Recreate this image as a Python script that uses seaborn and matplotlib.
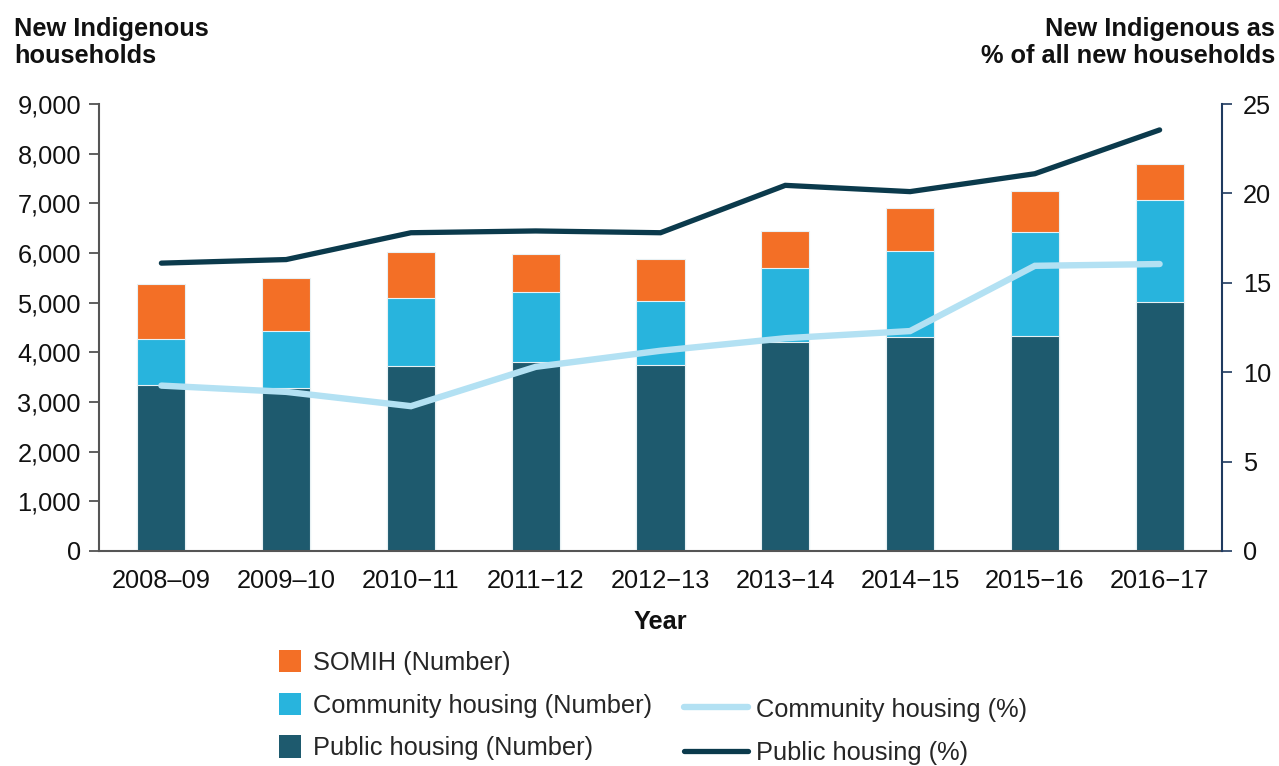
import numpy as np
import pandas as pd
import matplotlib
matplotlib.use("Agg")
import matplotlib.pyplot as plt
from matplotlib.lines import Line2D
from matplotlib.patches import Patch
import seaborn as sns

# ---- data ----
years = ["2008–09", "2009–10", "2010−11", "2011−12", "2012−13",
         "2013−14", "2014−15", "2015−16", "2016−17"]
public_num = [3340, 3280, 3730, 3810, 3750, 4200, 4300, 4330, 5020]
community_num = [920, 1140, 1360, 1410, 1280, 1490, 1740, 2090, 2040]
somih_num = [1110, 1070, 930, 750, 850, 760, 860, 830, 730]
community_pct = [9.25, 8.9, 8.1, 10.3, 11.2, 11.9, 12.3, 15.95, 16.05]
public_pct = [16.1, 16.3, 17.8, 17.9, 17.8, 20.45, 20.1, 21.1, 23.55]

left_ticks = [0, 1000, 2000, 3000, 4000, 5000, 6000, 7000, 8000, 9000]
right_ticks = [0, 5, 10, 15, 20, 25]

C_SOMIH = "#F36F26"
C_COMM = "#28B4DD"
C_PUB = "#1E5A6E"
C_COMM_L = "#B3E1F3"
C_PUB_L = "#0B3A4C"

FS = 18.3

sns.set_theme(style="white")
plt.rcParams["font.family"] = ["Liberation Sans", "DejaVu Sans"]

df = pd.DataFrame({
    "year": years,
    "public": public_num,
    "community": community_num,
    "somih": somih_num,
})
df["pc"] = df["public"] + df["community"]
df["total"] = df["pc"] + df["somih"]

fig = plt.figure(figsize=(12.79, 7.66), dpi=100)
ax = fig.add_axes([99 / 1279, 1 - 551 / 766, (1222 - 99) / 1279, (551 - 104) / 766])

bw = 0.385
for col, c in [("total", C_SOMIH), ("pc", C_COMM), ("public", C_PUB)]:
    sns.barplot(data=df, x="year", y=col, color=c, width=bw, ax=ax,
                saturation=1, edgecolor="#e8f1f4", linewidth=0.8, order=years)

ax.set_ylim(0, 9000)
ax.set_xlim(-0.5, 8.5)
ax.set_yticks(left_ticks)
ax.set_yticklabels([f"{v:,}" for v in left_ticks])
ax.set_xlabel("Year", fontsize=FS, fontweight="bold", labelpad=12, color="#111111")
ax.set_ylabel("")
ax.tick_params(axis="y", which="both", left=True, length=7, width=1.2,
               color="#444444", labelsize=FS, pad=6, labelcolor="#111111")
ax.tick_params(axis="x", length=0, labelsize=FS, pad=13, labelcolor="#111111")
for s in ["top", "right"]:
    ax.spines[s].set_visible(False)
ax.spines["left"].set_color("#555555")
ax.spines["left"].set_linewidth(1.5)
ax.spines["bottom"].set_color("#555555")
ax.spines["bottom"].set_linewidth(1.5)

ax2 = ax.twinx()
pos = np.arange(len(years))
sns.lineplot(x=pos, y=community_pct, ax=ax2, color=C_COMM_L, linewidth=4.6,
             solid_capstyle="round", solid_joinstyle="miter")
sns.lineplot(x=pos, y=public_pct, ax=ax2, color=C_PUB_L, linewidth=3.8,
             solid_capstyle="round", solid_joinstyle="miter")
ax2.set_ylim(0, 25)
ax2.set_xlim(-0.5, 8.5)
ax2.set_yticks(right_ticks)
ax2.set_yticklabels([str(v) for v in right_ticks])
ax2.tick_params(axis="y", which="both", right=True, length=7, width=1.2,
                color="#1F3A5F", labelsize=FS, pad=8, labelcolor="#111111")
for s in ["top", "left", "bottom"]:
    ax2.spines[s].set_visible(False)
ax2.spines["right"].set_color("#1F3A5F")
ax2.spines["right"].set_linewidth(1.5)
ax2.grid(False)
ax.grid(False)

fig.text(14 / 1279, 1 - 17 / 766, "New Indigenous\nhouseholds", ha="left", va="top",
         fontsize=FS, fontweight="bold", color="#111111", linespacing=1.17)
fig.text(1275 / 1279, 1 - 17 / 766, "New Indigenous as\n% of all new households",
         ha="right", va="top", fontsize=FS, fontweight="bold", color="#111111",
         linespacing=1.17, multialignment="right")

h_left = [
    Patch(facecolor=C_SOMIH, edgecolor="none"),
    Patch(facecolor=C_COMM, edgecolor="none"),
    Patch(facecolor=C_PUB, edgecolor="none"),
]
l_left = ["SOMIH (Number)", "Community housing (Number)", "Public housing (Number)"]
leg1 = fig.legend(h_left, l_left, loc="upper left",
                  bbox_to_anchor=(279 / 1279, 1 - 650 / 766), frameon=False,
                  fontsize=FS, handlelength=0.88, handleheight=0.98, handletextpad=0.45,
                  labelspacing=0.7, borderaxespad=0, borderpad=0)

h_right = [
    Line2D([], [], color=C_COMM_L, linewidth=4.6, solid_capstyle="round"),
    Line2D([], [], color=C_PUB_L, linewidth=3.8, solid_capstyle="round"),
]
l_right = ["Community housing (%)", "Public housing (%)"]
leg2 = fig.legend(h_right, l_right, loc="upper left",
                  bbox_to_anchor=(684 / 1279, 1 - 697 / 766), frameon=False,
                  fontsize=FS, handlelength=2.5, handleheight=0.95, handletextpad=0.35,
                  labelspacing=0.75, borderaxespad=0, borderpad=0)

fig.savefig("out.png", dpi=100)
